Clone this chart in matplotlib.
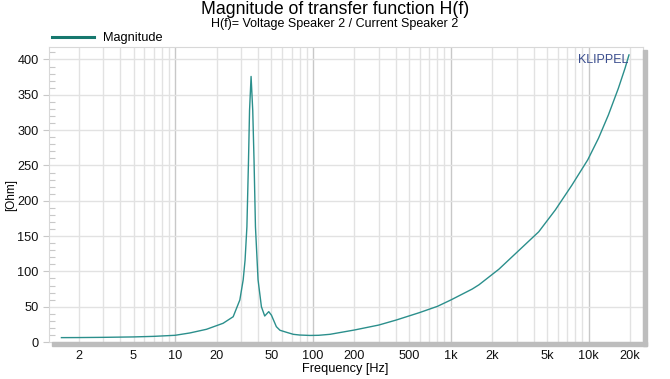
import matplotlib
matplotlib.use('Agg')
import matplotlib.pyplot as plt
from matplotlib.ticker import FixedLocator, NullFormatter, MultipleLocator
from matplotlib.patches import Rectangle

plt.rcParams['font.family'] = ['Liberation Sans', 'DejaVu Sans']

# Werte
frequenz = [1.5, 2, 3, 5, 7, 10, 12.8, 16.9, 22.3, 26.4, 29.5, 31.2, 32.2, 33.2, 34.1,
            34.7, 35.6, 36.6, 37.4, 38.3, 40.0, 42.3, 44.7, 47.8, 50.0, 54.3, 57.7,
            64.2, 72, 80, 95, 110, 133, 200, 300, 400, 590, 800, 1000, 1430, 1600,
            2230, 2940, 4340, 5730, 7550, 9850, 11780, 13900, 16400, 18350, 19600]
magnitude = [6.2, 6.3, 6.6, 7.2, 8.0, 9.5, 12.8, 18.0, 26.5, 35.8, 59.5, 88, 116, 163, 257,
             328, 376, 328, 257, 163, 88, 50, 36.8, 43, 38, 21.7, 16.6,
             13.8, 10.9, 9.9, 9.3, 9.5, 10.9, 17, 24, 31, 41.5, 50.5, 59.5, 75, 81,
             103, 125, 156, 187, 222, 258, 288.5, 321.5, 359, 387.6, 406.5]

xtick_werte = [2, 5, 10, 20, 50, 100, 200, 500, 1000, 2000, 5000, 10000, 20000]
xtick_text = ['2', '5', '10', '20', '50', '100', '200', '500', '1k', '2k', '5k', '10k', '20k']

fig = plt.figure(figsize=(6.7, 3.79), dpi=100)
ax = fig.add_axes([0.0731, 0.0976, 0.8866, 0.7771])

ax.plot(frequenz, magnitude, color='#2b8f8c', lw=1.0, label='Magnitude', zorder=3)

ax.set_xscale('log')
ax.set_xlim(1.218, 24770)
ax.set_ylim(0, 417)

# Gitter
minor_x = [m * 10 ** d for d in range(0, 5) for m in range(2, 10)]
ax.xaxis.set_minor_locator(FixedLocator(minor_x))
ax.xaxis.set_major_locator(FixedLocator([10, 100, 1000, 10000]))
ax.xaxis.set_major_formatter(NullFormatter())
ax.xaxis.set_minor_formatter(NullFormatter())
for f in minor_x:
    if f < 25000:
        ax.axvline(f, color='#e2e2e2', lw=1, zorder=1)
for f in [10, 100, 1000, 10000]:
    ax.axvline(f, color='#c8c8c8', lw=1, zorder=1)
for y in range(50, 417, 50):
    ax.axhline(y, color='#e2e2e2', lw=1, zorder=1)
ax.tick_params(axis='x', which='both', length=0)

for f, t in zip(xtick_werte, xtick_text):
    ax.annotate(t, xy=(f, 0), xycoords=('data', 'axes fraction'), xytext=(0, -5.5),
                textcoords='offset points', ha='center', va='top', fontsize=9.2, color='#111111')

ax.yaxis.set_major_locator(MultipleLocator(50))
ax.yaxis.set_minor_locator(MultipleLocator(10))
ax.tick_params(axis='y', which='major', length=4.3, width=0.8, color='#c8c8c8',
               direction='out', pad=3.0, labelsize=9.2, labelcolor='#111111')
ax.tick_params(axis='y', which='minor', length=4, width=0.8, color='#c8c8c8', direction='in')

for s in ax.spines.values():
    s.set_color('#d8d8d8')
    s.set_linewidth(0.8)

# grauer Schatten rechts und unten
fig.patches.append(Rectangle((643 / 670, 1 - 346 / 379), 4 / 670, 296 / 379,
                             transform=fig.transFigure, color='#bdbdbd', zorder=0))
fig.patches.append(Rectangle((52 / 670, 1 - 346 / 379), 595 / 670, 4 / 379,
                             transform=fig.transFigure, color='#bdbdbd', zorder=0))

ax.text(0.976, 0.957, 'KLIPPEL', transform=ax.transAxes, ha='right', va='center',
        fontsize=9, color='#3c4f8f')

leg = ax.legend(loc='lower left', bbox_to_anchor=(0.0, 1.0), frameon=False,
                handlelength=3.3, borderaxespad=0.1, fontsize=9.2, handletextpad=0.7,
                borderpad=0.15)
leg.get_lines()[0].set_linewidth(2.2)
leg.get_lines()[0].set_color('#16786e')

fig.text(0.5, 0.963, 'Magnitude of transfer function H(f)', ha='center', va='baseline', fontsize=12.7)
fig.text(0.5, 0.9296, 'H(f)= Voltage Speaker 2 / Current Speaker 2', ha='center', va='baseline', fontsize=9)
fig.text(0.515, 0.026, 'Frequency [Hz]', ha='center', va='center', fontsize=9.2)
fig.text(0.016, 0.485, '[Ohm]', ha='center', va='center', rotation=90, fontsize=8.5)

plt.savefig('out.png', dpi=100)
